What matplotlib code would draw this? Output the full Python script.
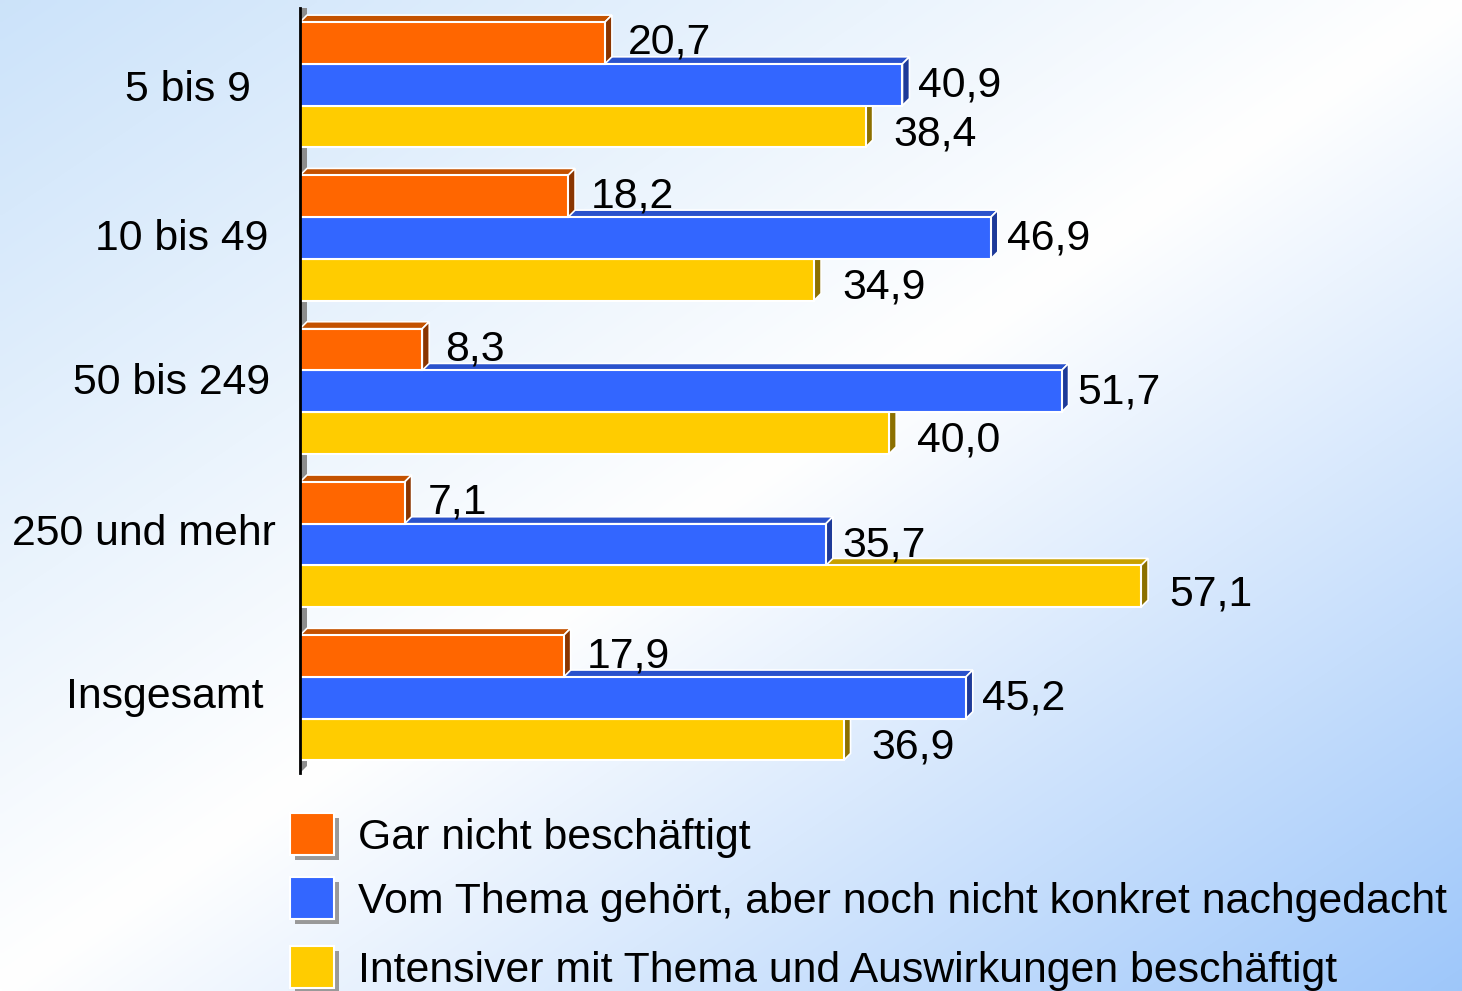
import numpy as np
import matplotlib.pyplot as plt
from matplotlib.patches import Polygon, Rectangle

plt.rcParams['font.family'] = ['Liberation Sans', 'DejaVu Sans']

# Daten
categories = ['5 bis 9', '10 bis 49', '50 bis 249', '250 und mehr', 'Insgesamt']
series = ['Gar nicht beschäftigt',
          'Vom Thema gehört, aber noch nicht konkret nachgedacht',
          'Intensiver mit Thema und Auswirkungen beschäftigt']
gar_nicht = [20.7, 18.2, 8.3, 7.1, 17.9]
gehoert = [40.9, 46.9, 51.7, 35.7, 45.2]
intensiv = [38.4, 34.9, 40.0, 57.1, 36.9]
values = [gar_nicht, gehoert, intensiv]

# Farben: Front, Oberseite, Seite
front = ['#FF6600', '#3366FF', '#FFCC00']
top = ['#C45200', '#2A52CC', '#C8A000']
side = ['#8A3500', '#1E3A99', '#8C7000']

FS = 30.8
W, H = 1462, 991
fig = plt.figure(figsize=(W / 100, H / 100), dpi=100)

# Hintergrund mit diagonalem Verlauf
bg = fig.add_axes([0, 0, 1, 1], zorder=-1)
yy, xx = np.mgrid[0:1:200j, 0:1:300j]
t = (xx + yy) / 2
c0 = np.array([0.80, 0.89, 0.98])
c1 = np.array([1.0, 1.0, 1.0])
c2 = np.array([0.62, 0.78, 0.98])
tt = t[..., None]
img = np.where(tt < 0.5, c0 + (c1 - c0) * (tt / 0.5), c1 + (c2 - c1) * ((tt - 0.5) / 0.5))
bg.imshow(img, aspect='auto', extent=[0, 1, 0, 1], interpolation='bilinear')
bg.axis('off')

# Hauptachse
x0, y_top, y_bot = 300, 8, 773
ax = fig.add_axes([x0 / W, 1 - y_bot / H, 1 - x0 / W, (y_bot - y_top) / H])
ax.patch.set_alpha(0)
px_per_unit = 14.73
xmax = (W - x0) / px_per_unit
ax.set_xlim(0, xmax)
ax.set_ylim(4.49, -0.5)
y_per_px = (4.49 + 0.5) / (y_bot - y_top)

h = 0.272
dx = 7 / px_per_unit
dy = 7 * y_per_px
ypos = np.arange(len(categories))

# graue Seitenwand
ax.add_patch(Polygon([(0, 4.49), (dx, 4.49 - dy), (dx, -0.5), (0, -0.5)],
                     closed=True, facecolor='#8C8C8C', edgecolor='none', zorder=1))

for k in range(3):
    z = 3 * (3 - k)
    centers = ypos + (k - 1) * h
    ax.barh(centers, values[k], height=h, color=front[k], edgecolor='white',
            linewidth=1.5, zorder=z + 0.5)
    for c, v in zip(centers, values[k]):
        yt = c - h / 2
        yb = c + h / 2
        ax.add_patch(Polygon([(0, yt), (v, yt), (v + dx, yt - dy), (dx, yt - dy)],
                             closed=True, facecolor=top[k], edgecolor='white',
                             linewidth=1.2, zorder=z))
        ax.add_patch(Polygon([(v, yt), (v + dx, yt - dy), (v + dx, yb - dy), (v, yb)],
                             closed=True, facecolor=side[k], edgecolor='white',
                             linewidth=1.2, zorder=z))

# Wertbeschriftungen
lab_dx = [23, 16, 28]
lab_dy = [0, -1, -8]
for k in range(3):
    centers = ypos + (k - 1) * h
    for c, v in zip(centers, values[k]):
        ax.annotate(f'{v:.1f}'.replace('.', ','), (v, c), xytext=(lab_dx[k], lab_dy[k]),
                    textcoords='offset pixels', ha='left', va='center',
                    fontsize=FS, color='black', zorder=20)

# Kategorienbeschriftungen
cat_right_px = [251, 268, 270, 276, 264]
cat_dy_px = [-5, -1, 8, 11, 1]
for i, lab in enumerate(categories):
    ax.annotate(lab, (0, i), xytext=(cat_right_px[i] - x0, cat_dy_px[i]),
                textcoords='offset pixels', ha='right', va='center',
                fontsize=FS, color='black', annotation_clip=False)

for s in ['top', 'right', 'bottom']:
    ax.spines[s].set_visible(False)
ax.spines['left'].set_linewidth(2)
ax.spines['left'].set_color('black')
ax.spines['left'].set_zorder(30)
ax.set_xticks([])
ax.set_yticks([])

# Legende
leg_y = [834, 898, 967]
for k in range(3):
    cy = leg_y[k]
    fig.patches.append(Rectangle(((290 + 5) / W, 1 - (cy + 21 + 5) / H), 44 / W, 42 / H,
                                 transform=fig.transFigure, facecolor='#999999',
                                 edgecolor='none', zorder=1))
    fig.patches.append(Rectangle((290 / W, 1 - (cy + 21) / H), 44 / W, 42 / H,
                                 transform=fig.transFigure, facecolor=front[k],
                                 edgecolor='white', linewidth=1.5, zorder=2))
    fig.text(358 / W, 1 - (cy + 4) / H, series[k], fontsize=FS, va='center', ha='left',
             color='black')

plt.savefig('out.png', dpi=100)
